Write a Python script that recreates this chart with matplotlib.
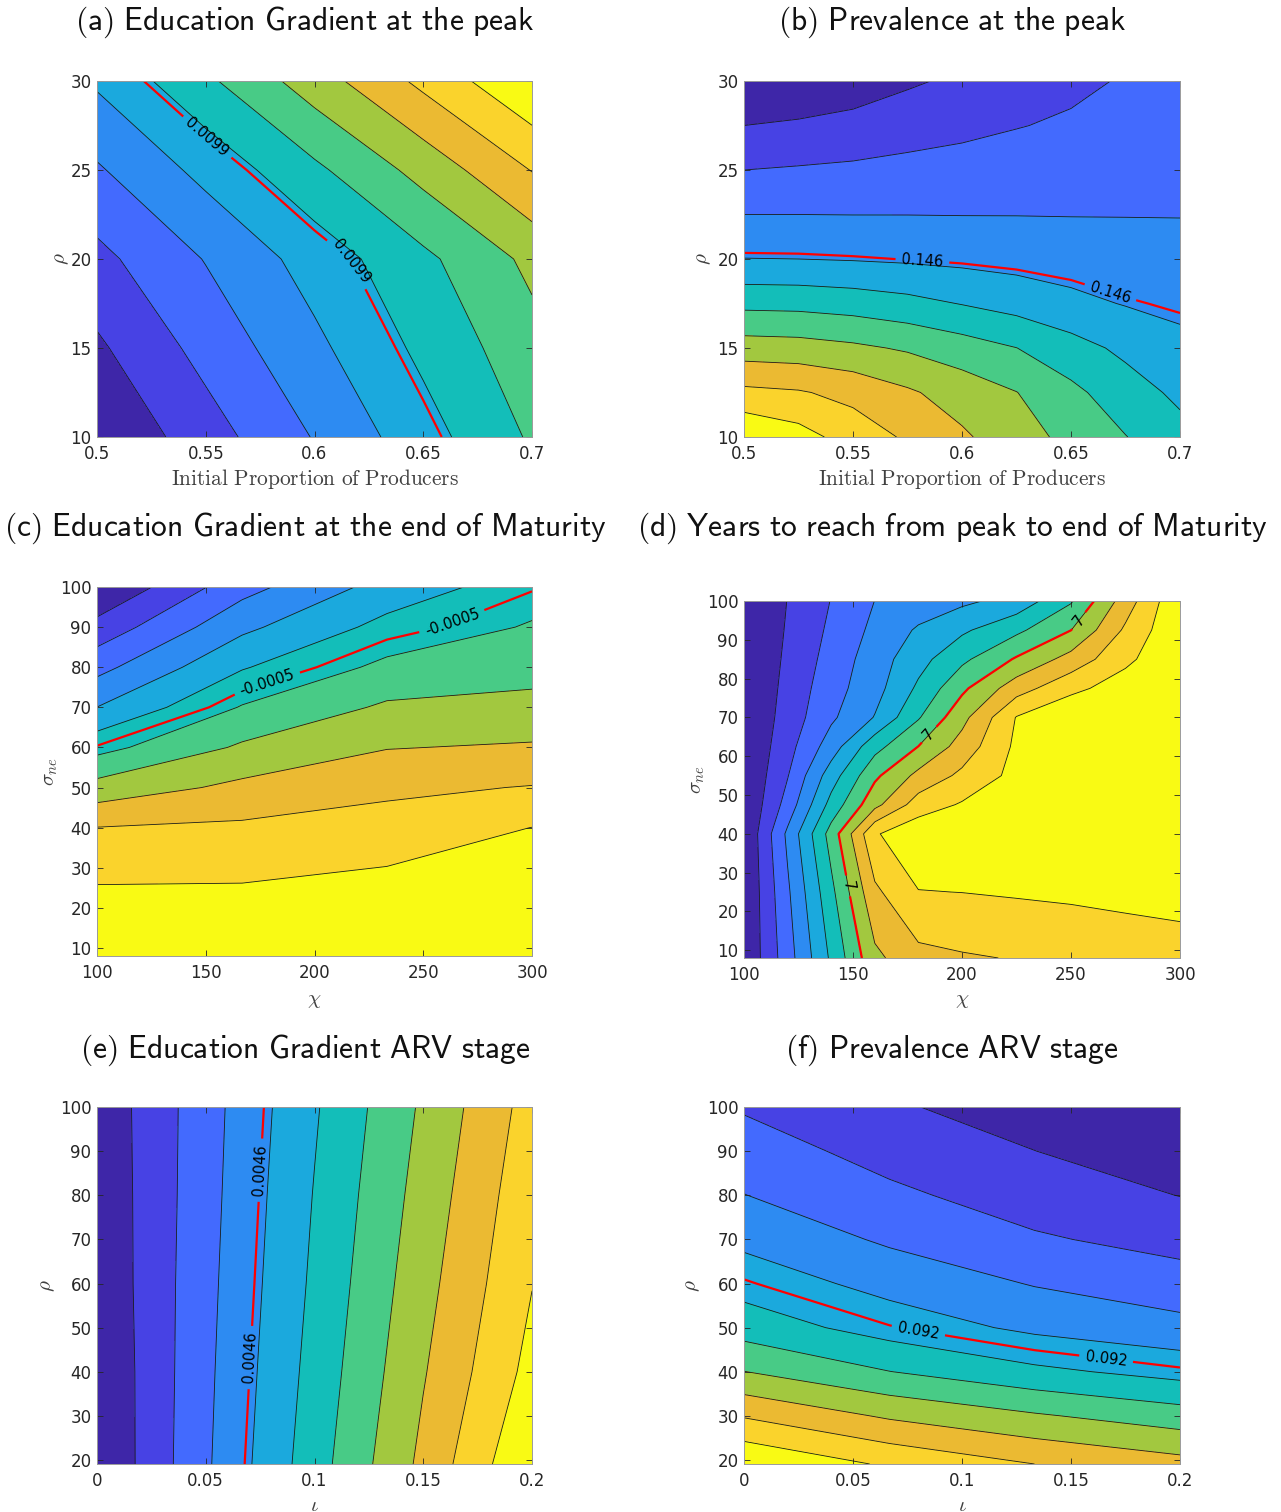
import numpy as np
import matplotlib
matplotlib.use('Agg')
import matplotlib.pyplot as plt

plt.rcParams['mathtext.fontset'] = 'cm'
plt.rcParams['font.family'] = 'DejaVu Sans'

W, H = 1281, 1512

# parula, sampled at the 11 filled bands
PARULA = ['#3e26a8', '#4742e4', '#436afe', '#2d8bf2', '#1ba9dd', '#13beb9',
          '#48cb86', '#a2c83f', '#ebba32', '#fad32c', '#f9fa14']
# surfaces below are stored in contour-level units (line k sits at value k)
LEVELS = [-5, 1, 2, 3, 4, 5, 6, 7, 8, 9, 10, 15]
LINE_LEVELS = [1, 2, 3, 4, 5, 6, 7, 8, 9, 10]

# ---- (a) Education gradient at the peak
a_x = [0.5, 0.55, 0.6, 0.65, 0.7]
a_y = [10, 15, 20, 25, 30]
a_z = [[0.05, 1.55, 3.06, 4.60, 6.13],
       [0.83, 2.34, 3.77, 5.23, 6.63],
       [1.72, 3.05, 4.42, 5.77, 7.25],
       [2.88, 4.30, 5.79, 7.35, 9.04],
       [4.15, 5.80, 7.52, 9.25, 10.95]]
a_red, a_red_txt = 4.86, '0.0099'

# ---- (b) Prevalence at the peak
b_x = [0.5, 0.525, 0.55, 0.575, 0.6, 0.625, 0.65, 0.675, 0.7]
b_y = [10, 12.5, 15, 17.5, 20, 22.5, 25, 27.5, 30]
b_z = [[10.95, 10.4, 9.56, 8.86, 8.15, 7.43, 6.72, 6.03, 5.33],
       [9.24, 9.09, 8.71, 8.14, 7.56, 7.02, 6.24, 5.45, 4.79],
       [7.48, 7.41, 7.19, 6.88, 6.46, 6.01, 5.38, 4.78, 4.25],
       [5.74, 5.70, 5.55, 5.30, 4.96, 4.62, 4.25, 3.95, 3.78],
       [4.02, 4.00, 3.94, 3.86, 3.76, 3.65, 3.55, 3.45, 3.35],
       [3.00, 3.00, 2.99, 2.99, 2.98, 2.98, 2.97, 2.97, 2.97],
       [2.00, 2.09, 2.18, 2.28, 2.37, 2.47, 2.55, 2.66, 2.77],
       [1.00, 1.13, 1.29, 1.57, 1.76, 1.96, 2.13, 2.35, 2.57],
       [0.00, 0.22, 0.50, 0.86, 1.19, 1.49, 1.79, 2.08, 2.38]]
b_red, b_red_txt = 3.88, '0.146'

# ---- (c) Education gradient at the end of maturity
c_x = [100, 166.7, 233.3, 300]
c_y = [8, 20, 30, 40, 50, 60, 70, 80, 90, 100]
c_z = [[10.9, 10.9, 11.2, 11.0],
       [10.4, 10.37, 10.6, 10.8],
       [9.71, 9.77, 10.02, 10.6],
       [9.02, 9.17, 9.43, 10.01],
       [7.38, 8.24, 8.78, 9.05],
       [5.67, 7.15, 7.96, 8.11],
       [4.01, 6.07, 7.15, 7.29],
       [2.68, 4.92, 6.24, 6.65],
       [1.34, 3.77, 5.31, 6.09],
       [0.00, 2.64, 4.39, 5.54]]
c_red, c_red_txt = 5.6, '-0.0005'

# ---- (d) Years from peak to end of maturity
d_x = [100, 120, 140, 160, 180, 200, 225, 250, 275, 300]
d_y = [8, 25, 40, 47.5, 55, 62.5, 70, 77.5, 85, 92.5, 100]
d_z = [[0.06, 2.56, 5.17, 7.77, 8.70, 8.90, 9.05, 9.35, 9.47, 9.57],
       [0.00, 2.84, 5.74, 8.80, 9.97, 10.01, 10.1, 10.15, 10.25, 10.35],
       [0.00, 3.20, 6.41, 9.90, 10.7, 10.6, 10.7, 10.7, 10.7, 10.7],
       [0.00, 2.39, 5.35, 7.71, 9.48, 10.1, 10.5, 10.75, 10.85, 10.9],
       [0.00, 1.95, 4.52, 6.80, 8.27, 9.22, 10.3, 10.7, 10.9, 11.0],
       [0.00, 1.64, 3.49, 5.66, 7.01, 8.41, 10.2, 10.8, 10.9, 11.0],
       [0.00, 1.42, 2.83, 4.05, 5.91, 7.69, 10.05, 10.9, 10.9, 11.0],
       [0.00, 1.29, 2.60, 3.63, 5.18, 6.79, 8.56, 9.73, 10.5, 10.95],
       [0.00, 1.18, 2.38, 3.51, 4.64, 5.78, 7.11, 8.38, 9.77, 10.9],
       [0.00, 1.09, 2.19, 3.24, 4.13, 4.83, 5.78, 6.99, 9.17, 10.9],
       [0.00, 1.02, 2.03, 3.01, 3.41, 3.80, 4.35, 5.90, 8.49, 10.9]]
d_red, d_red_txt = 7.0, '7'

# ---- (e) Education gradient ARV stage
e_x = [0, 0.05, 0.1, 0.15, 0.2]
e_y = [19.1, 40, 60, 80, 100]
e_z = [[0.00, 2.85, 5.56, 8.25, 11.0],
       [0.05, 2.78, 5.36, 7.92, 10.33],
       [0.15, 2.71, 5.19, 7.65, 9.97],
       [0.20, 2.64, 5.05, 7.40, 9.70],
       [0.26, 2.59, 4.89, 7.16, 9.41]]
e_red, e_red_txt = 3.82, '0.0046'

# ---- (f) Prevalence ARV stage
f_x = [0, 0.0667, 0.1333, 0.2]
f_y = [19.1, 30, 40, 50, 60, 70, 80, 90, 100]
f_z = [[10.96, 9.85, 9.00, 8.36],
       [8.92, 7.86, 7.12, 6.46],
       [7.02, 6.02, 5.23, 4.65],
       [5.55, 4.57, 3.78, 3.31],
       [4.60, 3.65, 2.94, 2.41],
       [3.75, 2.85, 2.12, 1.66],
       [3.02, 2.20, 1.53, 0.98],
       [2.46, 1.65, 1.01, 0.31],
       [1.90, 1.15, 0.45, -0.30]]
f_red, f_red_txt = 4.52, '0.092'

PROD_X = [0.5, 0.55, 0.6, 0.65, 0.7]
PROD_XL = ['0.5', '0.55', '0.6', '0.65', '0.7']
IOTA_X = [0, 0.05, 0.1, 0.15, 0.2]
IOTA_XL = ['0', '0.05', '0.1', '0.15', '0.2']
CHI_X = [100, 150, 200, 250, 300]

LABEL_GRAY = '#404040'
TICK_GRAY = '#262626'

fig = plt.figure(figsize=(W / 100, H / 100), dpi=100)


def panel(px, z, x, y, red, red_txt, label_at, xlim, ylim, xticks, xticklabels,
          yticks, xlabel, ylabel, xlab_off, ylab_off, xlab_size=15):
    l, r, t, b = px
    ax = fig.add_axes([l / W, 1 - b / H, (r - l) / W, (b - t) / H])
    X, Y = np.meshgrid(x, y)
    Z = np.array(z)
    ax.contourf(X, Y, Z, levels=LEVELS, colors=PARULA)
    ax.contour(X, Y, Z, levels=LINE_LEVELS, colors='#1a1a1a', linewidths=0.6)
    cs = ax.contour(X, Y, Z, levels=[red], colors='red', linewidths=1.6)
    ax.clabel(cs, fmt={red: red_txt}, manual=label_at, inline=True,
              inline_spacing=6, fontsize=10.5, colors='k')
    ax.set_xlim(*xlim)
    ax.set_ylim(*ylim)
    ax.set_xticks(xticks, xticklabels)
    ax.set_yticks(yticks, [str(v) for v in yticks])
    ax.tick_params(direction='in', length=4, width=0.6, colors=TICK_GRAY,
                   labelsize=12, top=True, right=True)
    ax.tick_params(axis='x', pad=6)
    ax.tick_params(axis='y', pad=4)
    for s in ax.spines.values():
        s.set_color('#9a9a9a')
        s.set_linewidth(0.7)
    ax.set_xlabel(xlabel, fontsize=xlab_size, color=LABEL_GRAY)
    ax.set_ylabel(ylabel, fontsize=15, color=LABEL_GRAY)
    ax.xaxis.set_label_coords(0.5, -xlab_off / (b - t))
    ax.yaxis.set_label_coords(-ylab_off / (r - l), 0.5)
    return ax


PROD_LAB = r'$\mathrm{Initial\ Proportion\ of\ Producers}$'

panel((97, 532, 81, 437), a_z, a_x, a_y, a_red, a_red_txt,
      [(0.5497, 26.7), (0.6154, 19.8)], (0.5, 0.7), (10, 30),
      PROD_X, PROD_XL, [10, 15, 20, 25, 30], PROD_LAB, r'$\rho$', 30, 26, 15.4)
panel((744, 1180, 81, 437), b_z, b_x, b_y, b_red, b_red_txt,
      [(0.5817, 19.66), (0.668, 18.1)], (0.5, 0.7), (10, 30),
      PROD_X, PROD_XL, [10, 15, 20, 25, 30], PROD_LAB, r'$\rho$', 30, 31, 15.4)
panel((97, 532, 587, 956), c_z, c_x, c_y, c_red, c_red_txt,
      [(178.2, 76.1), (263.2, 91.3)], (100, 300), (8, 100),
      CHI_X, [str(v) for v in CHI_X], list(range(10, 101, 10)),
      r'$\chi$', r'$\sigma_{ne}$', 34, 37)
panel((744, 1180, 601, 958), d_z, d_x, d_y, d_red, d_red_txt,
      [(148, 26.6), (185, 65.5), (253, 95.2)], (100, 300), (8, 100),
      CHI_X, [str(v) for v in CHI_X], list(range(10, 101, 10)),
      r'$\chi$', r'$\sigma_{ne}$', 32, 37)
panel((97, 532, 1107, 1464), e_z, e_x, e_y, e_red, e_red_txt,
      [(0.0745, 85.7), (0.0713, 43.2)], (0, 0.2), (19.1, 100),
      IOTA_X, IOTA_XL, list(range(20, 101, 10)),
      r'$\iota$', r'$\rho$', 31, 40)
panel((744, 1180, 1107, 1464), f_z, f_x, f_y, f_red, f_red_txt,
      [(0.0798, 48.8), (0.166, 42.5)], (0, 0.2), (19.1, 100),
      IOTA_X, IOTA_XL, list(range(20, 101, 10)),
      r'$\iota$', r'$\rho$', 31, 42)

TITLES = [(305, 22, r'(a) Education Gradient at the peak'),
          (952, 22, r'(b) Prevalence at the peak'),
          (305, 528, r'(c) Education Gradient at the end of Maturity'),
          (952, 528, r'(d) Years to reach from peak to end of Maturity'),
          (305, 1050, r'(e) Education Gradient ARV stage'),
          (952, 1050, r'(f) Prevalence ARV stage')]
for tx, ty, txt in TITLES:
    math = r'$\mathsf{' + txt.replace(' ', r'\ ') + '}$'
    fig.text(tx / W, 1 - ty / H, math, fontsize=22.7, ha='center', va='center',
             color='#111111')

fig.savefig('out.png', dpi=100, facecolor='white')
